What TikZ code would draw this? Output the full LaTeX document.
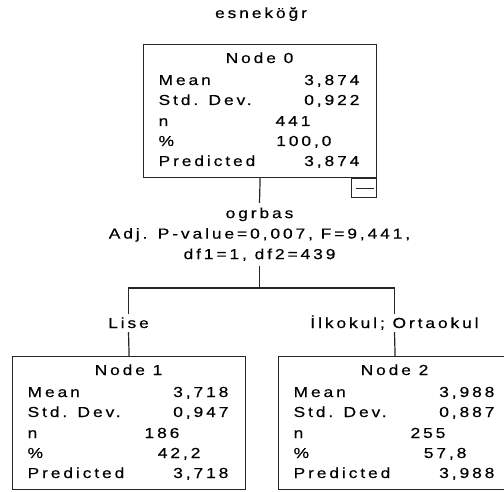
\documentclass[tikz,border=0pt]{standalone}
\usepackage{fontspec}
\setmainfont[LetterSpace=20, FakeStretch=1.2, FakeBold=0.4]{Liberation Sans}

\tikzset{
  box/.style={draw, minimum width=233pt, minimum height=133pt, inner sep=0pt, anchor=north west},
  head/.style={anchor=base, inner sep=0pt},
  lbl/.style={anchor=base west, inner sep=0pt},
  val/.style={anchor=base east, inner sep=0pt},
  cat/.style={inner sep=3.5pt, text height=10pt, text depth=0pt},
  tog/.style={draw, minimum width=25pt, minimum height=19pt, inner sep=0pt, anchor=north east}
}

\begin{document}
\begin{tikzpicture}[x=1pt, y=-1pt, line width=1.2pt, draw=black!85, font=\fontsize{14.5}{20.5}\selectfont]
    \useasboundingbox (0,0) rectangle (504,492);

    \node[head] (dep) at (261,18) {esneköğr};

    % root
    \begin{scope}[shift={(143,44)}]
        \node[box] (n0) at (0,0) {};
        \node[head] (n0h) at (116.5,19) {Node 0};
        \node[lbl] (n0l1) at (15,41) {Mean};
        \node[lbl] (n0l2) at (15,61) {Std. Dev.};
        \node[lbl] (n0l3) at (15,82) {n};
        \node[lbl] (n0l4) at (15,102) {\%};
        \node[lbl] (n0l5) at (15,122) {Predicted};
        \node[val] (n0v1) at (217,41) {3,874};
        \node[val] (n0v2) at (217,61) {0,922};
        \node[val] (n0v3) at (168,82) {441};
        \node[val] (n0v4) at (189,102) {100,0};
        \node[val] (n0v5) at (217,122) {3,874};
    \end{scope}
    \node[tog] (n0t) at (n0.south east) {};
    \draw ([xshift=5pt]n0t.west) -- ([xshift=-3pt]n0t.east);

    % split
    \node[anchor=north, inner sep=4pt, align=center] (sp) at (259.5,203)
        {ogrbas\\Adj. P-value=0,007, F=9,441,\\df1=1, df2=439};
    \coordinate (barl) at (128.5,288);
    \coordinate (barr) at (394.5,288);
    \draw (n0.south) -- (sp.north);
    \draw (sp.south) -- (sp.south |- barl);

    \node[cat] (c1) at (128.5,323) {Lise};
    \node[cat] (c2) at (394.5,323) {İlkokul; Ortaokul};
    \draw (c1.north) -- (barl) -- (barr) -- (c2.north);

    % left child
    \begin{scope}[shift={(12,356)}]
        \node[box] (n1) at (0,0) {};
        \node[head] (n1h) at (116.5,19) {Node 1};
        \node[lbl] (n1l1) at (15,41) {Mean};
        \node[lbl] (n1l2) at (15,61) {Std. Dev.};
        \node[lbl] (n1l3) at (15,82) {n};
        \node[lbl] (n1l4) at (15,102) {\%};
        \node[lbl] (n1l5) at (15,122) {Predicted};
        \node[val] (n1v1) at (217,41) {3,718};
        \node[val] (n1v2) at (217,61) {0,947};
        \node[val] (n1v3) at (168,82) {186};
        \node[val] (n1v4) at (189,102) {42,2};
        \node[val] (n1v5) at (217,122) {3,718};
    \end{scope}

    % right child
    \begin{scope}[shift={(278,356)}]
        \node[box] (n2) at (0,0) {};
        \node[head] (n2h) at (116.5,19) {Node 2};
        \node[lbl] (n2l1) at (15,41) {Mean};
        \node[lbl] (n2l2) at (15,61) {Std. Dev.};
        \node[lbl] (n2l3) at (15,82) {n};
        \node[lbl] (n2l4) at (15,102) {\%};
        \node[lbl] (n2l5) at (15,122) {Predicted};
        \node[val] (n2v1) at (217,41) {3,988};
        \node[val] (n2v2) at (217,61) {0,887};
        \node[val] (n2v3) at (168,82) {255};
        \node[val] (n2v4) at (189,102) {57,8};
        \node[val] (n2v5) at (217,122) {3,988};
    \end{scope}

    \draw (c1.south) -- (n1.north);
    \draw (c2.south) -- (n2.north);
\end{tikzpicture}
\end{document}
